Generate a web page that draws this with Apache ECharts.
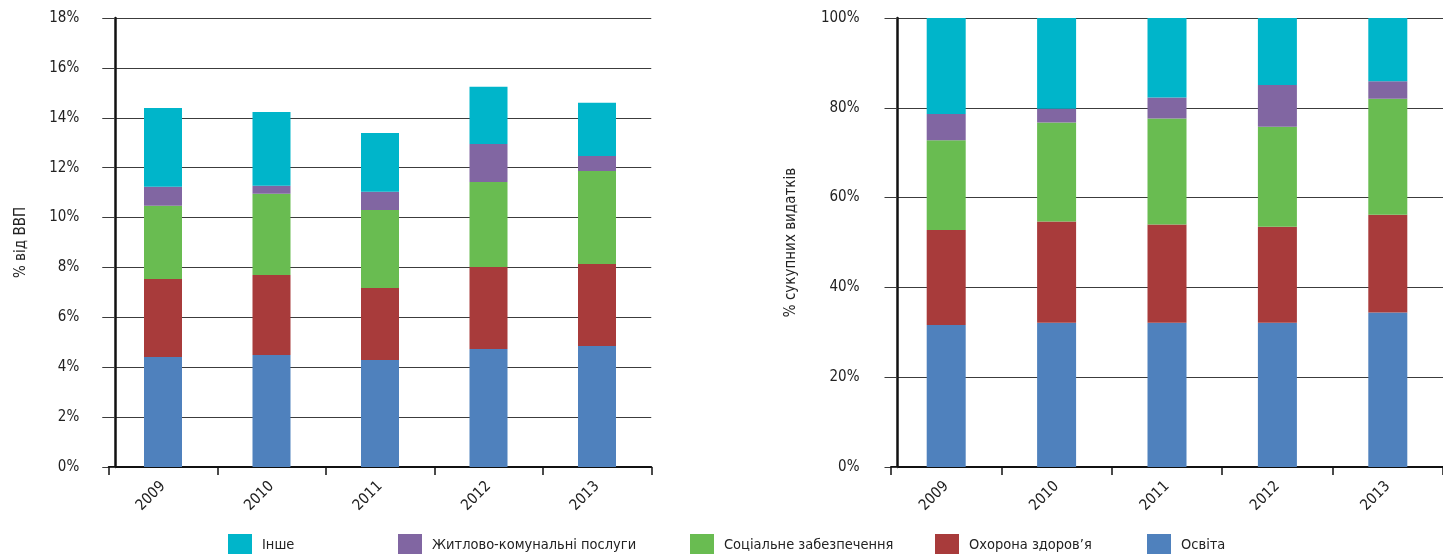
<!DOCTYPE html>
<html>
<head>
<meta charset="utf-8">
<script src="https://cdn.jsdelivr.net/npm/echarts@6/dist/echarts.min.js"></script>
<style>
  html, body { margin: 0; padding: 0; background: #fff; }
  #chart { width: 1443px; height: 554px; }
</style>
</head>
<body>
<div id="chart"></div>
<script>
// ---- data ----
const years = ['2009', '2010', '2011', '2012', '2013'];
const seriesNames = ['Освіта', 'Охорона здоров\u2019я', 'Соціальне забезпечення', 'Житлово-комунальні послуги', 'Інше'];

// % of GDP (left chart)
const gdpEducation = [4.41, 4.49, 4.29, 4.73, 4.85];
const gdpHealth    = [3.13, 3.21, 2.89, 3.29, 3.29];
const gdpSocial    = [2.93, 3.25, 3.12, 3.41, 3.73];
const gdpHousing   = [0.76, 0.33, 0.73, 1.52, 0.60];
const gdpOther     = [3.16, 2.95, 2.36, 2.29, 2.13];

// % of total expenditure (right chart)
const shareEducation = [31.6, 32.1, 32.1, 32.1, 34.4];
const shareHealth    = [21.2, 22.6, 21.9, 21.4, 21.8];
const shareSocial    = [20.0, 22.0, 23.6, 22.3, 25.8];
const shareHousing   = [5.8, 3.1, 4.7, 9.3, 3.9];
const shareOther     = [21.4, 20.2, 17.7, 14.9, 14.1];

const leftTicks = { min: 0, max: 18, interval: 2 };
const rightTicks = { min: 0, max: 100, interval: 20 };

// ---- styling ----
const FONT = "'DejaVu Sans Condensed', 'Liberation Sans Narrow', sans-serif";
const colors = ['#4F81BD', '#A83B3B', '#69BC51', '#8166A2', '#00B5CA'];
const textColor = '#222';
const gridColor = '#3c3c3c';
const AXIS_FS = 15;
const LEGEND_FS = 14.5;

const gdpData = [gdpEducation, gdpHealth, gdpSocial, gdpHousing, gdpOther];
const shareData = [shareEducation, shareHealth, shareSocial, shareHousing, shareOther];

function xAxis(gridIndex) {
  return {
    type: 'category', gridIndex, data: years,
    axisLine: { show: true, lineStyle: { color: '#111', width: 2 } },
    axisTick: { show: true, length: 8, lineStyle: { color: '#111', width: 1.5 } },
    axisLabel: { rotate: 45, margin: 17, color: textColor, fontFamily: FONT, fontSize: AXIS_FS },
    splitLine: { show: false }
  };
}
function yAxis(gridIndex, ticks, name, nameGap, labelMargin) {
  return {
    type: 'value', gridIndex, min: ticks.min, max: ticks.max, interval: ticks.interval,
    offset: -6.5,
    name, nameLocation: 'middle', nameGap,
    nameTextStyle: { color: textColor, fontFamily: FONT, fontSize: AXIS_FS },
    axisLine: { show: true, lineStyle: { color: '#111', width: 2.5 } },
    axisTick: { show: true, length: 13, lineStyle: { color: gridColor, width: 1 } },
    axisLabel: { formatter: '{value}%', margin: labelMargin, color: textColor, fontFamily: FONT, fontSize: AXIS_FS },
    splitLine: { show: true, lineStyle: { color: gridColor, width: 1 } }
  };
}

const series = [];
seriesNames.forEach((name, i) => {
  series.push({
    name, type: 'bar', stack: 'gdp', xAxisIndex: 0, yAxisIndex: 0,
    barWidth: 38, data: gdpData[i], itemStyle: { color: colors[i] }
  });
});
seriesNames.forEach((name, i) => {
  series.push({
    name, type: 'bar', stack: 'share', xAxisIndex: 1, yAxisIndex: 1,
    barWidth: 39, data: shareData[i], itemStyle: { color: colors[i] }
  });
});

// Legend order as in reference (left to right)
const legendOrder = ['Інше', 'Житлово-комунальні послуги', 'Соціальне забезпечення', 'Охорона здоров\u2019я', 'Освіта'];
const legendLeft = [228, 398, 690, 935, 1147];
const legends = legendOrder.map((n, i) => ({
  data: [n], left: legendLeft[i], top: 534, orient: 'horizontal',
  icon: 'rect', itemWidth: 24, itemHeight: 22, padding: 0,
  textStyle: { color: textColor, fontFamily: FONT, fontSize: LEGEND_FS, padding: [0, 0, 0, 5] }
}));

const option = {
  animation: false,
  backgroundColor: '#fff',
  textStyle: { fontFamily: FONT },
  legend: legends,
  grid: [
    { left: 108.75, top: 18, width: 542.5, bottom: 87, containLabel: false },
    { left: 891, top: 18, width: 554, bottom: 87, containLabel: false }
  ],
  xAxis: [xAxis(0), xAxis(1)],
  yAxis: [
    yAxis(0, leftTicks, '% від ВВП', 87, 36),
    yAxis(1, rightTicks, '% сукупних видатків', 99, 38)
  ],
  series
};

const chart = echarts.init(document.getElementById('chart'), null, { renderer: 'canvas' });
chart.setOption(option);
</script>
</body>
</html>
